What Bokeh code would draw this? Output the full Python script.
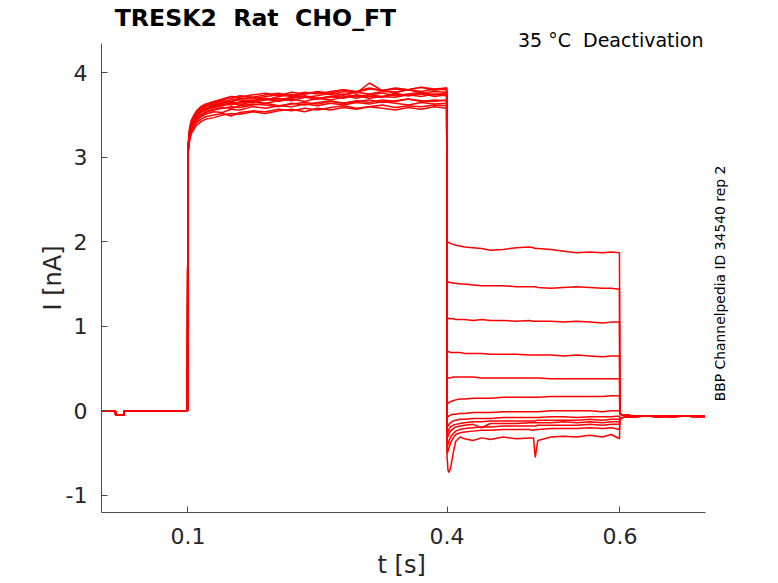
import math
from bokeh.plotting import figure
from bokeh.models import Label, Range1d, Title
from bokeh.embed import file_html
from bokeh.resources import INLINE

# ---------------- data ----------------
NB = "\u00a0"  # keeps the double spaces of the original texts visible
title_text = "TRESK2" + NB + " Rat" + NB + " CHO_FT"
corner_text = "35 °C" + NB + " Deactivation"
side_text = "BBP Channelpedia ID 34540 rep 2"
x_label = "t [s]"
y_label = "I [nA]"

x_ticks = [0.1, 0.4, 0.6]
y_ticks = [-1, 0, 1, 2, 3, 4]
y_tick_labels = {-1: "-1", 0: "0", 1: "1", 2: "2", 3: "3", 4: "4"}
x_limits = (0.0, 0.6985)
y_limits = (-1.203, 4.343)

# holding segment (shared by all sweeps)
t_hold = [0.0, 0.016, 0.0165, 0.026, 0.0265, 0.0995]
i_hold = [0.0, 0.0, -0.05, -0.05, 0.0, 0.0]

# activation step 0.1 - 0.4 s
t_act = [0.1, 0.1005, 0.102, 0.104, 0.107, 0.11, 0.115, 0.12, 0.13, 0.14,
         0.15, 0.16, 0.175, 0.19, 0.205, 0.22, 0.235, 0.25, 0.265, 0.28,
         0.295, 0.31, 0.325, 0.34, 0.355, 0.37, 0.385, 0.3995]
act_currents = [
    [2.98, 3.18, 3.35, 3.44, 3.50, 3.55, 3.60, 3.63, 3.66, 3.69, 3.72, 3.71, 3.74, 3.76, 3.73, 3.77, 3.75, 3.78, 3.76, 3.80, 3.78, 3.82, 3.79, 3.81, 3.80, 3.83, 3.79, 3.82],
    [2.96, 3.14, 3.30, 3.38, 3.45, 3.50, 3.55, 3.57, 3.61, 3.63, 3.62, 3.66, 3.65, 3.68, 3.70, 3.67, 3.71, 3.69, 3.72, 3.70, 3.74, 3.72, 3.71, 3.75, 3.73, 3.76, 3.72, 3.74],
    [2.94, 3.10, 3.25, 3.33, 3.39, 3.43, 3.48, 3.51, 3.54, 3.53, 3.57, 3.56, 3.60, 3.58, 3.61, 3.60, 3.63, 3.61, 3.64, 3.62, 3.65, 3.63, 3.66, 3.64, 3.62, 3.65, 3.63, 3.64],
    [2.97, 3.16, 3.32, 3.41, 3.48, 3.53, 3.58, 3.61, 3.64, 3.67, 3.66, 3.69, 3.71, 3.68, 3.72, 3.74, 3.71, 3.73, 3.76, 3.74, 3.77, 3.75, 3.78, 3.77, 3.80, 3.76, 3.78, 3.77],
    [2.93, 3.08, 3.22, 3.30, 3.36, 3.41, 3.45, 3.48, 3.50, 3.52, 3.49, 3.53, 3.55, 3.54, 3.57, 3.55, 3.58, 3.56, 3.59, 3.61, 3.58, 3.60, 3.62, 3.59, 3.61, 3.60, 3.62, 3.61],
    [2.95, 3.12, 3.28, 3.37, 3.43, 3.48, 3.53, 3.56, 3.59, 3.61, 3.64, 3.62, 3.66, 3.64, 3.67, 3.69, 3.66, 3.70, 3.68, 3.71, 3.73, 3.70, 3.72, 3.71, 3.74, 3.72, 3.75, 3.73],
    [2.96, 3.15, 3.31, 3.40, 3.46, 3.51, 3.56, 3.60, 3.63, 3.65, 3.68, 3.70, 3.69, 3.72, 3.74, 3.72, 3.75, 3.77, 3.74, 3.78, 3.76, 3.88, 3.79, 3.77, 3.80, 3.78, 3.81, 3.80],
    [2.94, 3.11, 3.27, 3.35, 3.41, 3.46, 3.50, 3.54, 3.57, 3.59, 3.58, 3.61, 3.63, 3.62, 3.60, 3.64, 3.62, 3.65, 3.67, 3.64, 3.66, 3.68, 3.65, 3.67, 3.69, 3.66, 3.68, 3.67],
    [2.95, 3.13, 3.29, 3.38, 3.44, 3.49, 3.54, 3.57, 3.60, 3.62, 3.65, 3.64, 3.67, 3.69, 3.66, 3.70, 3.72, 3.69, 3.71, 3.73, 3.70, 3.74, 3.72, 3.76, 3.73, 3.75, 3.74, 3.76],
    [2.92, 3.07, 3.20, 3.28, 3.33, 3.38, 3.42, 3.45, 3.47, 3.50, 3.52, 3.51, 3.54, 3.52, 3.55, 3.57, 3.54, 3.58, 3.56, 3.59, 3.57, 3.60, 3.58, 3.56, 3.59, 3.57, 3.60, 3.58],
    [2.97, 3.17, 3.34, 3.43, 3.49, 3.54, 3.59, 3.62, 3.65, 3.68, 3.70, 3.73, 3.71, 3.74, 3.76, 3.73, 3.77, 3.75, 3.78, 3.80, 3.77, 3.81, 3.79, 3.82, 3.80, 3.83, 3.81, 3.82],
    [2.94, 3.10, 3.26, 3.34, 3.40, 3.45, 3.50, 3.53, 3.56, 3.58, 3.60, 3.59, 3.62, 3.64, 3.61, 3.63, 3.65, 3.63, 3.66, 3.64, 3.67, 3.65, 3.68, 3.66, 3.69, 3.67, 3.66, 3.68],
    [2.96, 3.14, 3.30, 3.39, 3.45, 3.50, 3.55, 3.58, 3.62, 3.64, 3.66, 3.68, 3.67, 3.70, 3.68, 3.71, 3.73, 3.70, 3.72, 3.75, 3.72, 3.74, 3.76, 3.73, 3.75, 3.77, 3.74, 3.76],
]

# deactivation step 0.4 - 0.6 s
t_deact = [0.4, 0.401, 0.402, 0.404, 0.407, 0.41, 0.415, 0.42, 0.43, 0.44,
           0.45, 0.465, 0.48, 0.495, 0.5, 0.502, 0.505, 0.52, 0.535, 0.55,
           0.565, 0.58, 0.59, 0.5995]
deact_currents = [
    [1.99, 2.00, 1.99, 1.98, 1.97, 1.96, 1.95, 1.94, 1.93, 1.92, 1.90, 1.91, 1.93, 1.94, 1.93, 1.92, 1.92, 1.91, 1.89, 1.87, 1.88, 1.87, 1.88, 1.87],
    [1.52, 1.53, 1.52, 1.52, 1.51, 1.51, 1.50, 1.50, 1.49, 1.48, 1.48, 1.48, 1.47, 1.47, 1.47, 1.47, 1.46, 1.45, 1.46, 1.47, 1.46, 1.45, 1.45, 1.44],
    [1.09, 1.10, 1.09, 1.09, 1.09, 1.08, 1.08, 1.08, 1.07, 1.08, 1.07, 1.07, 1.06, 1.07, 1.06, 1.06, 1.06, 1.06, 1.05, 1.06, 1.05, 1.04, 1.05, 1.05],
    [0.69, 0.70, 0.70, 0.69, 0.69, 0.69, 0.69, 0.68, 0.68, 0.68, 0.67, 0.67, 0.67, 0.66, 0.66, 0.66, 0.66, 0.66, 0.65, 0.66, 0.65, 0.64, 0.65, 0.65],
    [0.38, 0.39, 0.39, 0.39, 0.40, 0.40, 0.40, 0.40, 0.40, 0.39, 0.39, 0.39, 0.39, 0.39, 0.39, 0.39, 0.39, 0.38, 0.38, 0.38, 0.38, 0.38, 0.38, 0.38],
    [0.08, 0.09, 0.10, 0.11, 0.12, 0.13, 0.14, 0.14, 0.15, 0.15, 0.15, 0.16, 0.16, 0.16, 0.16, 0.16, 0.16, 0.17, 0.17, 0.17, 0.17, 0.17, 0.18, 0.18],
    [-0.08, -0.07, -0.06, -0.05, -0.04, -0.04, -0.03, -0.03, -0.02, -0.02, -0.02, -0.01, -0.01, -0.01, -0.01, -0.01, -0.01, 0.00, 0.00, 0.00, 0.00, -0.01, 0.00, 0.00],
    [-0.20, -0.18, -0.16, -0.14, -0.12, -0.11, -0.10, -0.10, -0.09, -0.09, -0.09, -0.08, -0.08, -0.08, -0.08, -0.08, -0.08, -0.07, -0.07, -0.08, -0.07, -0.07, -0.07, -0.06],
    [-0.28, -0.25, -0.22, -0.19, -0.17, -0.16, -0.15, -0.14, -0.13, -0.13, -0.12, -0.12, -0.12, -0.12, -0.12, -0.12, -0.11, -0.11, -0.11, -0.11, -0.10, -0.11, -0.10, -0.10],
    [-0.32, -0.30, -0.27, -0.24, -0.21, -0.19, -0.18, -0.17, -0.16, -0.20, -0.15, -0.15, -0.15, -0.14, -0.14, -0.14, -0.14, -0.14, -0.13, -0.14, -0.13, -0.14, -0.13, -0.13],
    [-0.42, -0.40, -0.36, -0.31, -0.27, -0.24, -0.22, -0.21, -0.20, -0.19, -0.19, -0.18, -0.18, -0.18, -0.18, -0.18, -0.17, -0.17, -0.17, -0.17, -0.16, -0.17, -0.16, -0.16],
    [-0.50, -0.48, -0.44, -0.38, -0.32, -0.28, -0.26, -0.25, -0.24, -0.23, -0.23, -0.22, -0.22, -0.22, -0.23, -0.22, -0.22, -0.21, -0.21, -0.21, -0.20, -0.21, -0.20, -0.22],
    [-0.55, -0.70, -0.73, -0.68, -0.50, -0.36, -0.31, -0.33, -0.35, -0.32, -0.34, -0.31, -0.33, -0.32, -0.32, -0.55, -0.35, -0.31, -0.30, -0.31, -0.29, -0.31, -0.28, -0.33],
]

# return to holding 0.6 - 0.7 s
t_tail = [0.6, 0.601, 0.603, 0.607, 0.615, 0.63, 0.645, 0.66, 0.675, 0.69, 0.698]
tail_upper = [-0.03, -0.04, -0.05, -0.05, -0.06, -0.06, -0.07, -0.06, -0.06, -0.07, -0.06]
tail_lower = [-0.10, -0.09, -0.08, -0.07, -0.07, -0.06, -0.06, -0.07, -0.06, -0.06, -0.07]

# ---------------- figure ----------------
FONT = "DejaVu Sans"
W, H = 778, 583
LEFT, BOTTOM = 101, 71          # frame left / bottom border in px
PX_PER_S = 864.0
PX_PER_NA = 84.5
x_end = x_limits[0] + (W - LEFT) / PX_PER_S
y_end = y_limits[0] + (H - BOTTOM) / PX_PER_NA

p = figure(width=W, height=H,
           x_range=Range1d(x_limits[0], x_end), y_range=Range1d(y_limits[0], y_end),
           output_backend="svg", toolbar_location=None,
           min_border_left=LEFT, min_border_right=0,
           min_border_top=0, min_border_bottom=BOTTOM)
p.title.visible = False
p.outline_line_color = None
p.xgrid.visible = False
p.ygrid.visible = False
p.background_fill_color = "white"
p.border_fill_color = "white"

for k in range(len(act_currents)):
    tail = tail_upper if k < 7 else tail_lower
    xs = t_hold + t_act + t_deact + t_tail
    ys = i_hold + act_currents[k] + deact_currents[k] + tail
    p.line(xs, ys, line_color="#ff0000", line_width=1.5)

for ax in (p.xaxis[0], p.yaxis[0]):
    ax.axis_line_color = "#4d4d4d"
    ax.major_tick_line_color = "#4d4d4d"
    ax.major_tick_in = 6
    ax.major_tick_out = 0
    ax.minor_tick_line_color = None
    ax.major_label_text_font = FONT
    ax.major_label_text_font_size = "22px"
    ax.major_label_text_color = "#262626"

p.xaxis.ticker = x_ticks
p.yaxis.ticker = y_ticks
p.yaxis.major_label_overrides = y_tick_labels
p.xaxis.bounds = x_limits
p.yaxis.bounds = y_limits
p.xaxis.major_label_standoff = 15
p.yaxis.major_label_standoff = 14

p.add_layout(Title(text=x_label, align="left", text_font=FONT,
                   text_font_size="24px", text_font_style="normal",
                   text_color="#262626", standoff=5,
                   offset=377 - LEFT), "below")
p.add_layout(Title(text=y_label, align="left", text_font=FONT,
                   text_font_size="24px", text_font_style="normal",
                   text_color="#262626", standoff=-8,
                   offset=(H - BOTTOM) - 310), "left")

p.add_layout(Label(x=0.1782, y=4.645, text=title_text, text_align="center",
                   text_baseline="alphabetic", text_font=FONT,
                   text_font_size="23.6px", text_font_style="bold",
                   text_color="black"))
p.add_layout(Label(x=0.6967, y=4.385, text=corner_text, text_align="right",
                   text_baseline="alphabetic", text_font=FONT,
                   text_font_size="19px", text_color="black"))
p.add_layout(Label(x=0.7153, y=1.507, text=side_text, angle=math.pi / 2,
                   text_align="center", text_baseline="middle", text_font=FONT,
                   text_font_size="13.9px", text_color="black"))

open("out.html", "w").write(file_html(p, INLINE))
